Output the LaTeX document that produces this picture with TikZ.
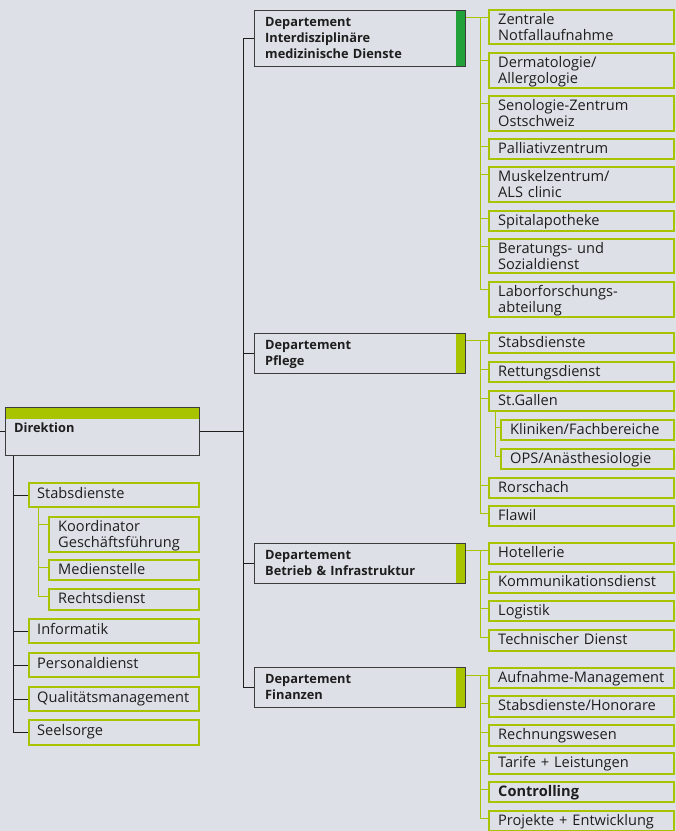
\documentclass[tikz,border=0pt]{standalone}
\usepackage{fontspec}
\setmainfont{Open Sans}
\definecolor{bgc}{HTML}{DDE0E6}
\definecolor{limeg}{HTML}{A8C400}
\definecolor{dgreen}{HTML}{22A03A}
\definecolor{ink}{HTML}{1E1E1E}
\definecolor{framec}{HTML}{3C3C3C}
\tikzset{
  gb/.style={draw=limeg, line width=2pt, fill=bgc, rectangle, anchor=north west, inner sep=0pt},
  gt/.style={anchor=north west, inner sep=0pt, align=left, text width=172pt, text=ink,
             font=\fontsize{14.6}{16}\selectfont},
  dbox/.style={draw=framec, line width=1pt, fill=bgc, rectangle, anchor=north west, inner sep=0pt},
  deptbar/.style={path picture={\fill[#1] ([xshift=-10pt]path picture bounding box.north east) rectangle (path picture bounding box.south east);}},
  dtxt/.style={anchor=north west, inner sep=0pt, align=left, text width=185pt, text=ink,
               font=\fontsize{12.8}{16}\selectfont\bfseries},
  bl/.style={draw=ink, line width=1pt},
  gl/.style={draw=limeg, line width=1pt}
}
\newcommand\rb[6]{%
  \node[gb, minimum width={#4pt-2pt}, minimum height={#5pt-2pt}] (#1) at (#2,#3) {};
  \coordinate (#1-s) at ([yshift=-8pt]#1.north west);
  \node[gt] (#1-t) at ([xshift=10pt,yshift=-3.8pt]#1.north west) {\strut #6};}
\newcommand\lb[6]{%
  \node[gb, minimum width={#4pt-2pt}, minimum height={#5pt-2pt}] (#1) at (#2,#3) {};
  \coordinate (#1-s) at ([yshift=-8pt]#1.north west);
  \node[gt] (#1-t) at ([xshift=9pt,yshift=-5.3pt]#1.north west) {\strut #6};}
\begin{document}
\begin{tikzpicture}[x=1pt,y=-1pt]
\fill[bgc] (0,0) rectangle (676,831);
\useasboundingbox (0,0) rectangle (676,831);

% Direktion
\node[dbox, minimum width=194pt, minimum height=48pt,
      path picture={\fill[limeg] (path picture bounding box.north west) rectangle ([yshift=-11pt]path picture bounding box.north east);}]
      (dir) at (5,407) {};
\node[dtxt] (dir-t) at ([xshift=9pt,yshift=-13.8pt]dir.north west) {\strut Direktion};

% Departments
\node[dbox, deptbar=dgreen, minimum width=211pt, minimum height=56pt] (d1) at (254,10) {};
\node[dtxt] (d1-t) at ([xshift=11pt,yshift=-4.8pt]d1.north west) {\strut Departement\\Interdisziplinäre\\medizinische Dienste};
\node[dbox, deptbar=limeg, minimum width=211pt, minimum height=40pt] (d2) at (254,333) {};
\node[dtxt] (d2-t) at ([xshift=11pt,yshift=-4.8pt]d2.north west) {\strut Departement\\Pflege};
\node[dbox, deptbar=limeg, minimum width=211pt, minimum height=40pt] (d3) at (254,543) {};
\node[dtxt] (d3-t) at ([xshift=11pt,yshift=-4.8pt]d3.north west) {\strut Departement\\Betrieb \& Infrastruktur};
\node[dbox, deptbar=limeg, minimum width=211pt, minimum height=40pt] (d4) at (254,667) {};
\node[dtxt] (d4-t) at ([xshift=11pt,yshift=-4.8pt]d4.north west) {\strut Departement\\Finanzen};

% Right column
\rb{r1}{488}{9}{187}{36}{Zentrale\\Notfallaufnahme}
\rb{r2}{488}{52}{187}{37}{Dermatologie/\\Allergologie}
\rb{r3}{488}{95}{187}{37}{Senologie-Zentrum\\Ostschweiz}
\rb{r4}{488}{138}{187}{22}{Palliativzentrum}
\rb{r5}{488}{166}{187}{37}{Muskelzentrum/\\ALS clinic}
\rb{r6}{488}{210}{187}{22}{Spitalapotheke}
\rb{r7}{488}{238}{187}{36}{Beratungs- und\\Sozialdienst}
\rb{r8}{488}{281}{187}{37}{Laborforschungs-\\abteilung}

\rb{p1}{488}{332}{187}{22}{Stabsdienste}
\rb{p2}{488}{361}{187}{22}{Rettungsdienst}
\rb{p3}{488}{390}{187}{22}{St.Gallen}
\rb{p4}{500}{419}{175}{22}{Kliniken/Fachbereiche}
\rb{p5}{500}{448}{175}{22}{OPS/Anästhesiologie}
\rb{p6}{488}{477}{187}{22}{Rorschach}
\rb{p7}{488}{505}{187}{22}{Flawil}

\rb{b1}{488}{542}{187}{23}{Hotellerie}
\rb{b2}{488}{571}{187}{23}{Kommunikationsdienst}
\rb{b3}{488}{600}{187}{22}{Logistik}
\rb{b4}{488}{629}{187}{23}{Technischer Dienst}

\rb{f1}{488}{667}{187}{22}{Aufnahme-Management}
\rb{f2}{488}{695}{187}{23}{Stabsdienste/Honorare}
\rb{f3}{488}{724}{187}{23}{Rechnungswesen}
\rb{f4}{488}{752}{187}{23}{Tarife + Leistungen}
\rb{f5}{488}{781}{187}{22}{\textbf{Controlling}}
\rb{f6}{488}{810}{187}{22}{Projekte + Entwicklung}

% Left column
\lb{l1}{28}{482}{172}{26}{Stabsdienste}
\rb{l2}{48}{516}{152}{37}{Koordinator\\Geschäftsführung}
\rb{l3}{48}{559}{152}{22}{Medienstelle}
\rb{l4}{48}{588}{152}{23}{Rechtsdienst}
\lb{l5}{28}{618}{172}{26}{Informatik}
\lb{l6}{28}{652}{172}{26}{Personaldienst}
\lb{l7}{28}{686}{172}{26}{Qualitätsmanagement}
\lb{l8}{28}{719}{172}{27}{Seelsorge}

% Black connectors
\coordinate (bx) at (243,0);
\draw[bl] (bx |- d1.west) -- (bx |- d4.west);
\foreach \d in {d1,d2,d3,d4} \draw[bl] (bx |- \d.west) -- (\d.west);
\draw[bl] (dir.east) -- (bx |- dir.east);
\coordinate (edge) at (0,431.5);
\draw[bl] (edge) -- (dir.west);
\coordinate (lx) at (13,0);
\draw[bl] (lx |- dir.south) -- (lx |- l8.west);
\foreach \n in {l1,l5,l6,l7,l8} \draw[bl] (lx |- \n.west) -- (\n.west);

% Green connectors
\coordinate (gx) at (480,0);
\draw[gl] (d1.east |- r1-s) -- (r1-s);
\draw[gl] (d2.east |- p1-s) -- (p1-s);
\draw[gl] (d3.east |- b1-s) -- (b1-s);
\draw[gl] (d4.east |- f1-s) -- (f1-s);
\draw[gl] (gx |- r1-s) -- (gx |- r8-s);
\draw[gl] (gx |- p1-s) -- (gx |- p7-s);
\draw[gl] (gx |- b1-s) -- (gx |- b4-s);
\draw[gl] (gx |- f1-s) -- (gx |- f6-s);
\foreach \n in {r2,r3,r4,r5,r6,r7,r8,p2,p3,p6,p7,b2,b3,b4,f2,f3,f4,f5,f6}
  \draw[gl] (gx |- \n-s) -- (\n-s);
\coordinate (sx) at (495,0);
\draw[gl] (sx |- p3.south) -- (sx |- p5-s);
\foreach \n in {p4,p5} \draw[gl] (sx |- \n-s) -- (\n-s);
\coordinate (lsx) at (38,0);
\draw[gl] (lsx |- l1.south) -- (lsx |- l4-s);
\foreach \n in {l2,l3,l4} \draw[gl] (lsx |- \n-s) -- (\n-s);
\end{tikzpicture}
\end{document}
